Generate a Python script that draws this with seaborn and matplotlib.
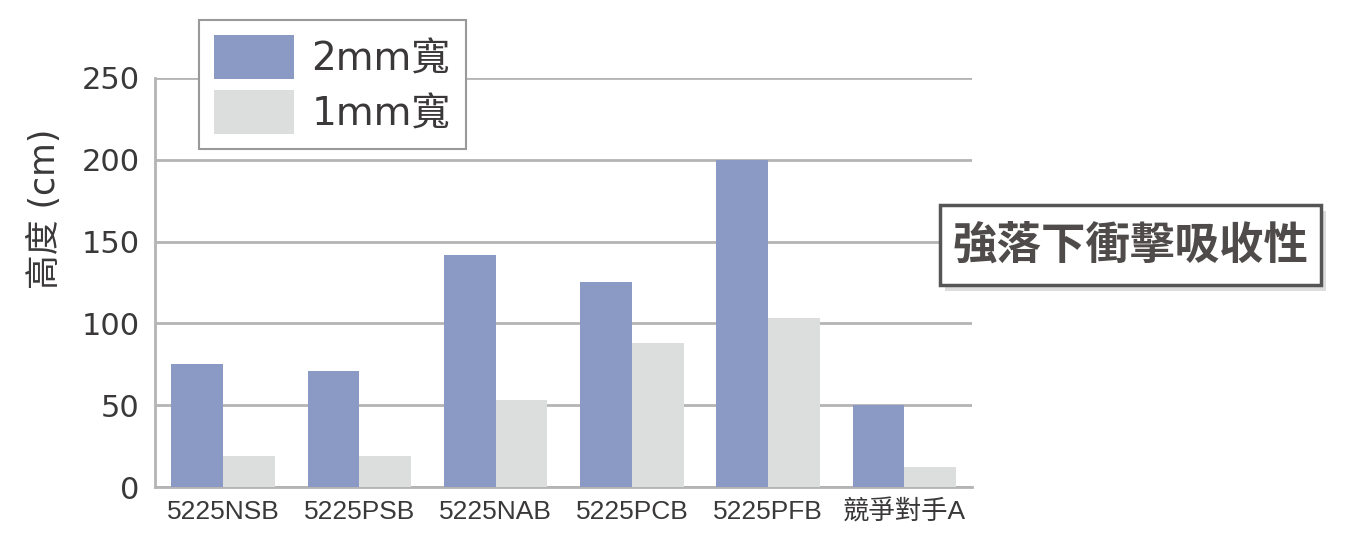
import numpy as np
import pandas as pd
import matplotlib
matplotlib.use("Agg")
import matplotlib.pyplot as plt
from matplotlib.patches import Rectangle
import seaborn as sns

# data
products = ['5225NSB', '5225PSB', '5225NAB', '5225PCB', '5225PFB', '競爭對手A']
width_labels = ['2mm寬', '1mm寬']
height_2mm = [75, 71, 142, 125, 200, 50]
height_1mm = [19, 19, 53, 88, 103, 12]
y_ticks = [0, 50, 100, 150, 200, 250]

colors = ['#8a9ac4', '#dcdedd']
text_col = '#3a3838'
grid_col = '#b4b4b4'

sns.set_style("white")
plt.rcParams['font.family'] = ['DejaVu Sans', 'Noto Sans CJK TC']

df = pd.DataFrame({
    'product': products * 2,
    'width': [width_labels[0]] * len(products) + [width_labels[1]] * len(products),
    'height': height_2mm + height_1mm,
})

fig = plt.figure(figsize=(13.6, 5.5), dpi=100)
ax = fig.add_axes([0.114, 0.1145, 0.601, 0.744])

sns.barplot(data=df, x='product', y='height', hue='width', order=products,
            hue_order=width_labels, palette=colors, width=0.76, gap=0,
            saturation=1, linewidth=0, ax=ax, zorder=3)

ax.set_xlim(-0.5, 5.5)
ax.set_ylim(0, 250)
ax.set_yticks(y_ticks)
ax.yaxis.grid(True, color=grid_col, linewidth=2, zorder=0)
ax.set_axisbelow(True)
for s in ['top', 'right']:
    ax.spines[s].set_visible(False)
for s in ['left', 'bottom']:
    ax.spines[s].set_color(grid_col)
    ax.spines[s].set_linewidth(2)

ax.tick_params(axis='y', length=0, pad=11, labelsize=22, labelcolor=text_col)
ax.tick_params(axis='x', length=0, pad=9, labelsize=19, labelcolor=text_col)
for lab in ax.get_xticklabels():
    lab.set_family(['Liberation Sans', 'Noto Sans CJK TC'])
ax.set_xticks(np.arange(0.5, 5, 1), minor=True)
ax.tick_params(axis='x', which='minor', direction='in', length=9, width=1.5, color='#888888')

ax.set_xlabel('')
ax.set_ylabel('')
fig.text(0.033, 0.62, '高度 (cm)', rotation=90, ha='center', va='center',
         fontsize=25, color=text_col, family=['DejaVu Sans', 'Noto Sans CJK TC'])

handles, labels = ax.get_legend_handles_labels()
ax.legend(handles, labels, loc='upper left', bbox_to_anchor=(0.146, 0.964),
          bbox_transform=fig.transFigure, fontsize=28, frameon=True, fancybox=False,
          edgecolor='#999999', framealpha=1, handlelength=2.05, handleheight=1.34,
          labelspacing=0.3, borderpad=0.4, handletextpad=0.45, borderaxespad=0,
          labelcolor=text_col)
ax.get_legend().get_frame().set_linewidth(1.5)

# boxed title with a soft shadow
fig.patches.append(Rectangle((0.695, 0.471), 0.28, 0.145, transform=fig.transFigure,
                             facecolor='#dddddd', edgecolor='none', zorder=5))
fig.patches.append(Rectangle((0.691, 0.482), 0.28, 0.145, transform=fig.transFigure,
                             facecolor='white', edgecolor='#555555', linewidth=2.5, zorder=6))
fig.text(0.831, 0.553, '強落下衝擊吸收性', ha='center', va='center', fontsize=32,
         fontweight='bold', color='#4f4b4b', family='Noto Sans CJK TC', zorder=7)

fig.savefig('out.png', dpi=100)
